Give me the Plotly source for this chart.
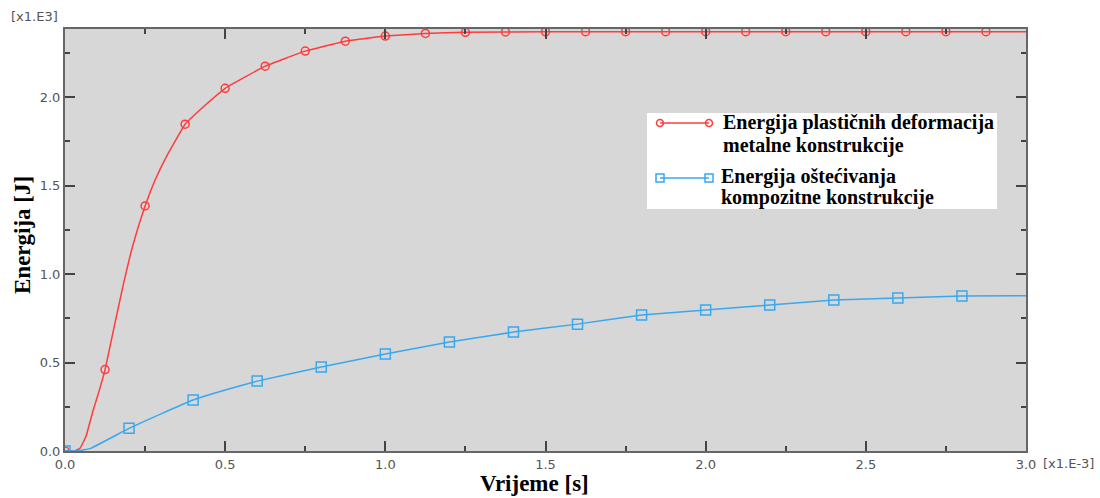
import plotly.graph_objects as go

# ---- data (time in x1e-3 s, energy in x1e3 J) ----
t_red_mk = [0, 0.125, 0.25, 0.375, 0.5, 0.625, 0.75, 0.875, 1.0, 1.125, 1.25, 1.375, 1.5,
            1.625, 1.75, 1.875, 2.0, 2.125, 2.25, 2.375, 2.5, 2.625, 2.75, 2.875]
e_red_mk = [0.0, 0.46, 1.385, 1.847, 2.05, 2.175, 2.26, 2.316, 2.345, 2.36, 2.366, 2.368, 2.369,
            2.37, 2.37, 2.37, 2.37, 2.37, 2.37, 2.37, 2.37, 2.37, 2.37, 2.37]
t_red_ln = [0, 0.03, 0.047, 0.065, 0.088, 0.105, 0.125, 0.151, 0.182, 0.213, 0.25, 0.281, 0.32,
            0.375, 0.44, 0.5, 0.625, 0.75, 0.875, 1.0, 1.125, 1.25, 1.5, 2.0, 2.5, 3.0]
e_red_ln = [0.0, 0.0, 0.016, 0.08, 0.23, 0.33, 0.46, 0.68, 0.94, 1.17, 1.385, 1.53, 1.675,
            1.847, 1.958, 2.05, 2.175, 2.26, 2.316, 2.345, 2.36, 2.366, 2.369, 2.37, 2.37, 2.37]

t_blue_mk = [0, 0.2, 0.4, 0.6, 0.8, 1.0, 1.2, 1.4, 1.6, 1.8, 2.0, 2.2, 2.4, 2.6, 2.8]
e_blue_mk = [0.0, 0.128, 0.288, 0.395, 0.475, 0.548, 0.616, 0.672, 0.717, 0.768, 0.797,
             0.825, 0.853, 0.864, 0.876]
t_blue_ln = [0, 0.04, 0.08, 0.2, 0.3, 0.4, 0.5, 0.6, 0.8, 1.0, 1.2, 1.4, 1.6, 1.8, 2.0,
             2.2, 2.4, 2.6, 2.8, 3.0]
e_blue_ln = [0.0, 0.0, 0.015, 0.128, 0.21, 0.288, 0.345, 0.395, 0.475, 0.548, 0.616, 0.672,
             0.717, 0.768, 0.797, 0.825, 0.853, 0.864, 0.876, 0.877]

x_tickvals = [0.0, 0.5, 1.0, 1.5, 2.0, 2.5, 3.0]
x_ticktext = ["0.0", "0.5", "1.0", "1.5", "2.0", "2.5", "3.0"]
y_tickvals = [0.0, 0.5, 1.0, 1.5, 2.0]
y_ticktext = ["0.0", "0.5", "1.0", "1.5", "2.0"]

legend_1 = ["Energija plastičnih deformacija", "metalne konstrukcije"]
legend_2 = ["Energija oštećivanja", "kompozitne konstrukcije"]

RED = "#ff3b3b"
BLUE = "#3aa8ee"

fig = go.Figure()
fig.add_trace(go.Scatter(x=t_red_ln, y=e_red_ln, mode="lines",
                         line=dict(color=RED, width=1.5, shape="spline", smoothing=0.3),
                         showlegend=False, hoverinfo="skip"))
fig.add_trace(go.Scatter(x=t_red_mk, y=e_red_mk, mode="markers",
                         marker=dict(symbol="circle-open", size=8, color=RED, line=dict(width=1.5)),
                         showlegend=False))
fig.add_trace(go.Scatter(x=t_blue_ln, y=e_blue_ln, mode="lines",
                         line=dict(color=BLUE, width=1.5, shape="spline", smoothing=0.3),
                         showlegend=False, hoverinfo="skip"))
fig.add_trace(go.Scatter(x=t_blue_mk, y=e_blue_mk, mode="markers",
                         marker=dict(symbol="square-open", size=10, color=BLUE, line=dict(width=1.5)),
                         showlegend=False))

tickfont = dict(family="DejaVu Sans", size=13, color="#555555")
axis_common = dict(showline=True, linecolor="#666666", linewidth=2, mirror="ticks", ticks="inside",
                   ticklen=10, tickwidth=1.5, tickcolor="#444444", showgrid=False, zeroline=False,
                   tickfont=tickfont)
fig.update_xaxes(range=[0, 3.0], tickvals=x_tickvals, ticktext=x_ticktext,
                 minor=dict(dtick=0.25, tick0=0, ticks="inside", ticklen=5, tickwidth=1.5, tickcolor="#444444"),
                 **axis_common)
fig.update_yaxes(range=[0, 2.385], tickvals=y_tickvals, ticktext=y_ticktext,
                 minor=dict(dtick=0.25, tick0=0, ticks="inside", ticklen=5, tickwidth=1.5, tickcolor="#444444"),
                 **axis_common)

W, H = 1100, 498
ml, mr, mt, mb = 65, 74, 29, 47
pw, ph = W - ml - mr, H - mt - mb


def px(x):
    return (x - ml) / pw


def py(y):
    return (H - mb - y) / ph


shapes = [dict(type="rect", xref="paper", yref="paper", x0=px(647), x1=px(997), y0=py(209), y1=py(113),
               fillcolor="white", line=dict(width=0), layer="above")]
for (yy, col, sym) in [(123, RED, "circle"), (178, BLUE, "rect")]:
    shapes.append(dict(type="line", xref="paper", yref="paper", x0=px(660), x1=px(709), y0=py(yy), y1=py(yy),
                       line=dict(color=col, width=1.5), layer="above"))
    for xx in (660, 709):
        r = 3.5 if sym == "circle" else 4
        shapes.append(dict(type=sym, xref="paper", yref="paper", xsizemode="pixel", ysizemode="pixel",
                           xanchor=px(xx), yanchor=py(yy), x0=-r, x1=r, y0=-r, y1=r,
                           line=dict(color=col, width=1.5), fillcolor="rgba(0,0,0,0)", layer="above"))

serif_bold = dict(family="Liberation Serif", size=20, color="black")
annotations = []
for txt, xx, yy in [(legend_1[0], 721, 123), (legend_1[1], 721, 145), (legend_2[0], 719, 176), (legend_2[1], 719, 197)]:
    annotations.append(dict(text="<b>" + txt + "</b>", xref="paper", yref="paper", x=px(xx), y=py(yy),
                            xanchor="left", yanchor="middle", showarrow=False, font=serif_bold))
annotations += [
    dict(text="<b>Energija [J]</b>", xref="paper", yref="paper", x=px(22), y=py(235), textangle=-90,
         xanchor="center", yanchor="middle",
         showarrow=False, font=dict(family="Liberation Serif", size=23, color="black")),
    dict(text="<b>Vrijeme [s]</b>", xref="paper", yref="paper", x=px(534), y=py(498), yanchor="bottom",
         xanchor="center",
         showarrow=False, font=dict(family="Liberation Serif", size=23, color="black")),
    dict(text="[x1.E3]", xref="paper", yref="paper", x=px(9), y=py(16), xanchor="left", yanchor="middle",
         showarrow=False, font=dict(family="DejaVu Sans", size=13, color="#555555")),
    dict(text="[x1.E-3]", xref="paper", yref="paper", x=px(1041), y=py(464), xanchor="left", yanchor="middle",
         showarrow=False, font=dict(family="DejaVu Sans", size=13, color="#555555")),
]

fig.update_layout(width=W, height=H, margin=dict(l=ml, r=mr, t=mt, b=mb),
                  plot_bgcolor="#d7d7d7", paper_bgcolor="white", shapes=shapes, annotations=annotations,
                  showlegend=False)

fig.write_html("out.html", config={"displayModeBar": False},
               post_script="document.body.style.margin='0px';")
